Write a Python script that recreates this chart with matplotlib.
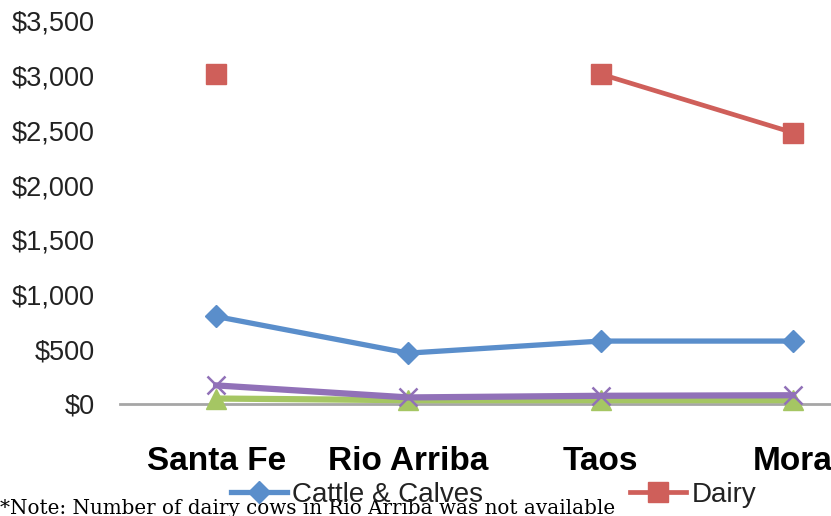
import numpy as np
import matplotlib
matplotlib.use('Agg')
import matplotlib.pyplot as plt

counties = ['Santa Fe', 'Rio Arriba', 'Taos', 'Mora']
cattle = [800, 465, 575, 575]
dairy = [3015, np.nan, 3015, 2480]
sheep = [50, 35, 35, 35]
hogs = [170, 60, 75, 80]
y_ticks = [0, 500, 1000, 1500, 2000, 2500, 3000, 3500]

blue = '#5a8ecb'
red = '#cf5f5a'
green = '#a5c663'
purple = '#9171b8'

fig = plt.figure(figsize=(8.31, 5.16), dpi=100)
# axes run past the right edge of the figure on purpose
ax = fig.add_axes([120 / 831, 1 - 404 / 516, 769 / 831, 383 / 516])

x = np.arange(len(counties))
ax.plot(x, cattle, color=blue, lw=3.8, marker='D', ms=11, clip_on=False,
        label='Cattle & Calves', zorder=3)
ax.plot(x, dairy, color=red, lw=3.4, marker='s', ms=14, clip_on=False,
        label='Dairy', zorder=3)
ax.plot(x, sheep, color=green, lw=4.5, marker='^', ms=15, clip_on=False,
        label='Sheep & Lambs', zorder=3)
ax.plot(x, hogs, color=purple, lw=4.5, marker='x', ms=13, mew=1.8, clip_on=False,
        label='Hogs & Pigs', zorder=4)

ax.set_xlim(-0.5, 3.5)
ax.set_ylim(0, 3500)
ax.set_yticks(y_ticks)
ax.set_yticklabels(['${:,}'.format(v) for v in y_ticks], fontsize=19.5,
                   family='Liberation Sans', color='#222222')
ax.set_xticks(x)
ax.set_xticklabels(counties, fontsize=24, fontweight='bold', family='Liberation Sans')
ax.tick_params(axis='y', length=0, pad=18)
ax.tick_params(axis='x', length=0, pad=30)
for side in ['top', 'right', 'left']:
    ax.spines[side].set_visible(False)
ax.spines['bottom'].set_color('#a6a6a6')
ax.spines['bottom'].set_linewidth(2)
ax.spines['bottom'].set_zorder(1)

handles, labels = ax.get_legend_handles_labels()
leg = fig.legend(handles, labels, ncol=4, loc='center left',
                 bbox_to_anchor=(231 / 831, 1 - 495 / 516), frameon=False,
                 prop={'family': 'Liberation Sans', 'size': 20},
                 handlelength=2.0, handletextpad=0.2, columnspacing=5.3,
                 borderpad=0, borderaxespad=0, markerscale=1.0)
for t in leg.get_texts():
    t.set_color('#222222')

fig.text(0, 1 - 514 / 516, '*Note: Number of dairy cows in Rio Arriba was not available',
         family='DejaVu Serif', fontsize=14.35, va='baseline', ha='left')

fig.savefig('out.png', dpi=100)
